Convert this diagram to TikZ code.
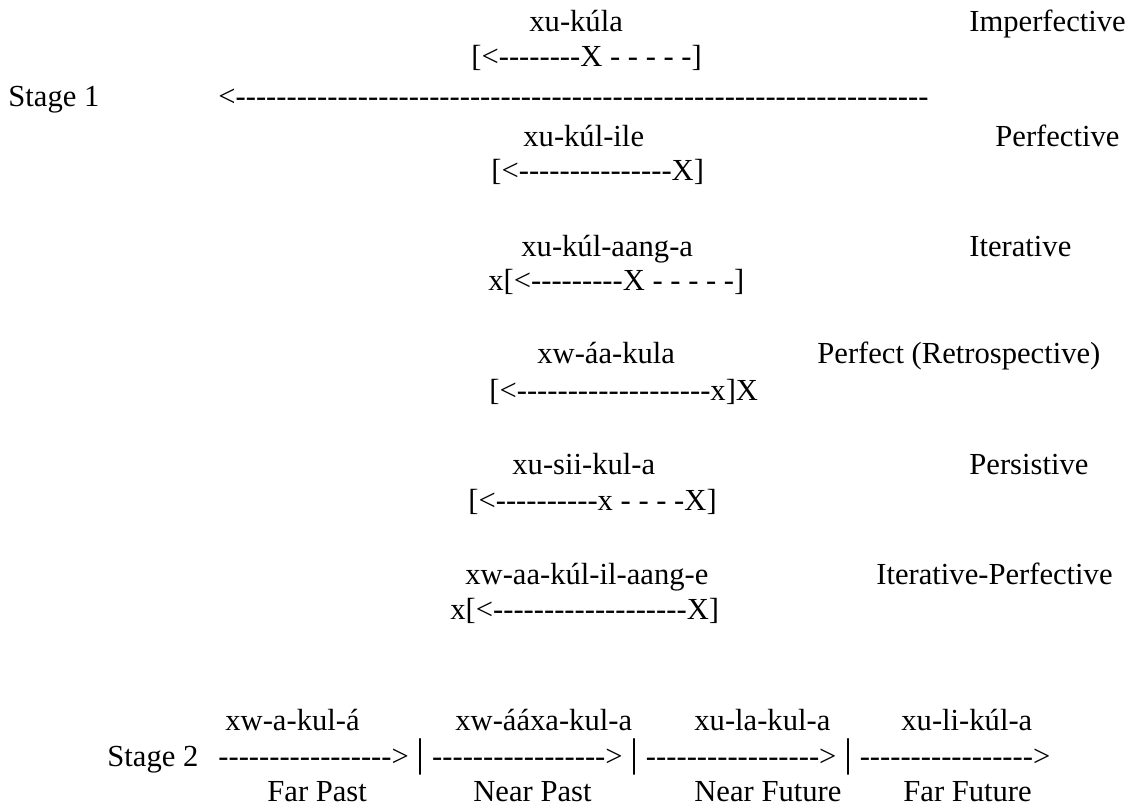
\documentclass[tikz,border=0pt]{standalone}
\usepackage{fontspec}
\setmainfont{Liberation Serif}[Ligatures=TeXOff]
\ExplSyntaxOn
\cs_new:Npn \hy #1 { \prg_replicate:nn {#1} {-} }
\ExplSyntaxOff
\newcommand\tbar{{\fontsize{20}{20}\selectfont|}}
\tikzset{
  t/.style={anchor=base west, inner sep=0pt, font=\fontsize{15.3}{18}\selectfont},
}
\begin{document}
\begin{tikzpicture}[x=0.5pt,y=-0.5pt]
\useasboundingbox (0,0) rectangle (1136,807);
% Stage 1 block
\node[t] (a1) at (529,32) {xu-kúla};
\node[t] (a1l) at (969,32) {Imperfective};
\node[t] (a1b) at (471,67) {[<\hy{8}X - - - - -]};
\node[t] (s1) at (8,107) {Stage 1};
\node[t] (s1line) at (218,107) {<\hy{68}};
\node[t] (a2) at (523,147) {xu-kúl-ile};
\node[t] (a2l) at (995,147) {Perfective};
\node[t] (a2b) at (491,181) {[<\hy{15}X]};
\node[t] (a3) at (521,257) {xu-kúl-aang-a};
\node[t] (a3l) at (969,257) {Iterative};
\node[t] (a3b) at (488,291) {x[<\hy{9}X - - - - -]};
\node[t] (a4) at (537,364) {xw-áa-kula};
\node[t] (a4l) at (817,364) {Perfect (Retrospective)};
\node[t] (a4b) at (489,401) {[<\hy{19}x]X};
\node[t] (a5) at (512,475) {xu-sii-kul-a};
\node[t] (a5l) at (969,475) {Persistive};
\node[t] (a5b) at (468,511) {[<\hy{10}x - - - -X]};
\node[t] (a6) at (465,585) {xw-aa-kúl-il-aang-e};
\node[t] (a6l) at (876,585) {Iterative-Perfective};
\node[t] (a6b) at (450,619) {x[<\hy{19}X]};
% Stage 2 block
\node[t] (b1) at (225,730) {xw-a-kul-á};
\node[t] (b2) at (455,730) {xw-ááxa-kul-a};
\node[t] (b3) at (694,730) {xu-la-kul-a};
\node[t] (b4) at (901,730) {xu-li-kúl-a};
\node[t] (s2) at (107,766) {Stage 2};
\node[t] (s2line) at (218,766) {\hy{17}> \tbar{} \hy{17}> \tbar{} \hy{17}> \tbar{} \hy{17}>};
\node[t] (c1) at (267,801) {Far Past};
\node[t] (c2) at (473,801) {Near Past};
\node[t] (c3) at (694,801) {Near Future};
\node[t] (c4) at (903,801) {Far Future};
\end{tikzpicture}
\end{document}
